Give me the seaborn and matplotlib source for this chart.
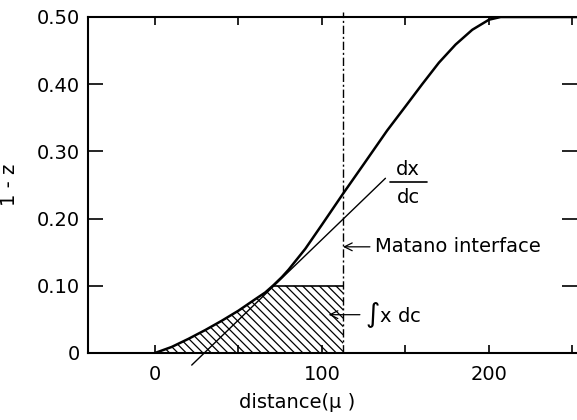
import matplotlib
matplotlib.use("Agg")
import matplotlib.pyplot as plt
import numpy as np
import pandas as pd
import seaborn as sns

# concentration profile
dist = [0, 10, 20, 30, 40, 50, 60, 66, 71, 76, 80, 90, 100, 112.6, 125, 139,
        150, 160, 170, 180, 190, 200, 207, 253]
one_minus_z = [0, 0.009, 0.021, 0.034, 0.048, 0.063, 0.080, 0.090, 0.101,
               0.113, 0.124, 0.155, 0.191, 0.237, 0.281, 0.331, 0.367, 0.400,
               0.432, 0.459, 0.481, 0.496, 0.500, 0.500]

# tangent (dx/dc) line end points
tan_x = [22, 138]
tan_y = [-0.018, 0.26]

matano_x = 112.6
area_top = 0.10

yticks = [0, 0.10, 0.20, 0.30, 0.40, 0.50]
ytick_labels = ["0", "0.10", "0.20", "0.30", "0.40", "0.50"]

sns.set_style("white")
plt.rcParams["font.family"] = ["DejaVu Sans"]
plt.rcParams["hatch.linewidth"] = 0.9
plt.rcParams["text.color"] = "black"
plt.rcParams["axes.labelcolor"] = "black"
plt.rcParams["xtick.color"] = "black"
plt.rcParams["ytick.color"] = "black"

fig = plt.figure(figsize=(5.77, 4.20), dpi=100)
ax = fig.add_axes([88 / 577, 1 - 353 / 420, 1 - 88 / 577, (353 - 17) / 420])

df = pd.DataFrame({"distance": dist, "val": one_minus_z})
sns.lineplot(data=df, x="distance", y="val", ax=ax, color="black", lw=1.8,
             estimator=None, sort=False)
sns.lineplot(x=tan_x, y=tan_y, ax=ax, color="black", lw=1.0)
ax.lines[-1].set_clip_on(False)

# hatched integral area
d = np.array(dist)
v = np.array(one_minus_z)
m = d <= 71
hx = np.append(d[m], matano_x)
hy = np.append(np.minimum(v[m], area_top), area_top)
ax.fill_between(hx, 0, hy, facecolor="none", edgecolor="black",
                hatch="\\" * 4, lw=0)
ax.plot([71, matano_x], [area_top, area_top], color="black", lw=1.2)

# Matano interface
ax.plot([matano_x, matano_x], [0, 0.508], color="black", lw=1.0,
        ls=(0, (6, 2, 1.5, 2)), clip_on=False)

fs = 14
ax.text(151.5, 0.273, "dx", ha="center", va="center", fontsize=fs)
ax.text(151.5, 0.231, "dc", ha="center", va="center", fontsize=fs)
ax.plot([140.7, 162.9], [0.255, 0.255], color="black", lw=1.2)

ax.annotate("Matano interface", xy=(matano_x, 0.158), xytext=(131.5, 0.158),
            va="center", fontsize=fs,
            arrowprops=dict(arrowstyle="->", color="black", lw=0.9,
                            shrinkA=1, shrinkB=0))
ax.annotate(r"$\int$x dc", xy=(104, 0.057), xytext=(125.5, 0.057),
            va="center", fontsize=fs,
            arrowprops=dict(arrowstyle="->", color="black", lw=0.9,
                            shrinkA=1, shrinkB=0))

ax.set_xlim(-40.1, 252.7)
ax.set_ylim(0, 0.5)
ax.set_xticks(np.arange(0, 251, 50))
ax.set_xticklabels(["0", "", "100", "", "200", ""])
ax.set_yticks(yticks)
ax.set_yticklabels(ytick_labels)

ax.tick_params(axis="x", direction="in", top=True, bottom=True, length=6,
               width=1.2, pad=9, labelsize=fs)
ax.tick_params(axis="y", direction="in", left=True, right=True, length=11,
               width=1.2, pad=6, labelsize=fs)

for s in ["left", "bottom", "top"]:
    ax.spines[s].set_linewidth(1.5)
    ax.spines[s].set_color("black")
ax.spines["right"].set_visible(False)

ax.set_xlabel("distance(\u03bc )", fontsize=fs)
ax.xaxis.set_label_coords((297 - 88) / (577 - 88), -0.12)
ax.set_ylabel("1 - z", fontsize=fs)
ax.yaxis.set_label_coords(-0.142, 0.5)

fig.savefig("out.png", dpi=100)
